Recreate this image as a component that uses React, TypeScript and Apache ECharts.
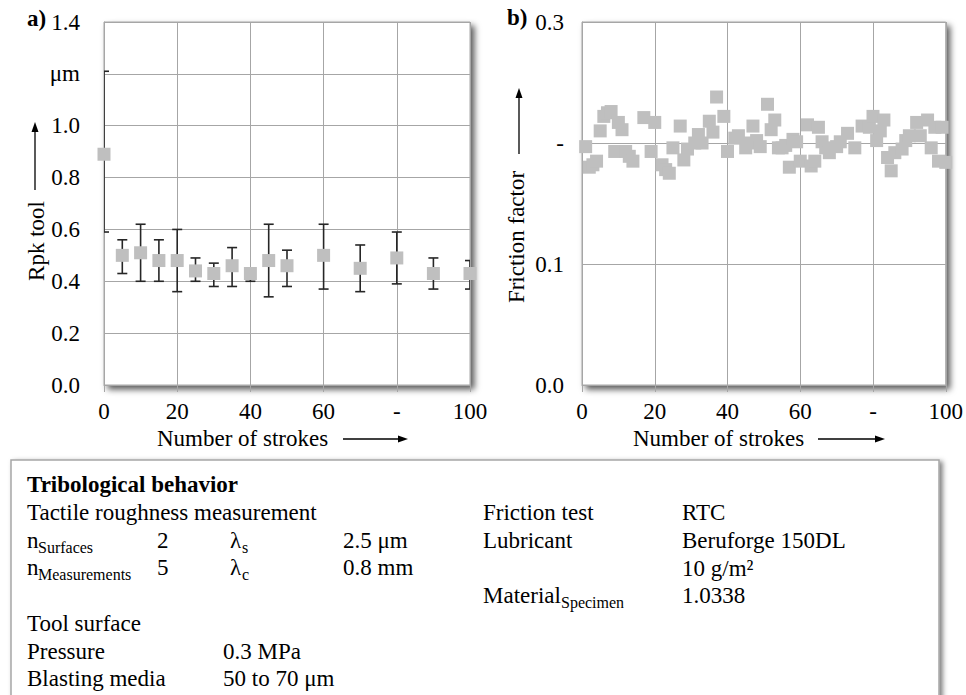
import { useEffect, useRef } from 'react';
import * as echarts from 'echarts';

// ---- Data: Rpk tool (panel a) ----
const rpkStrokes = [0, 5, 10, 15, 20, 25, 30, 35, 40, 45, 50, 60, 70, 80, 90, 100];
const rpkMean = [0.89, 0.50, 0.51, 0.48, 0.48, 0.44, 0.43, 0.46, 0.43, 0.48, 0.46, 0.50, 0.45, 0.49, 0.43, 0.43];
const rpkLow = [0.59, 0.43, 0.40, 0.40, 0.36, 0.40, 0.38, 0.38, 0.40, 0.34, 0.38, 0.37, 0.36, 0.39, 0.37, 0.37];
const rpkHigh = [1.21, 0.56, 0.62, 0.56, 0.60, 0.49, 0.47, 0.53, 0.45, 0.62, 0.52, 0.62, 0.54, 0.59, 0.49, 0.48];

// ---- Data: Friction factor (panel b) ----
const frictionStrokes = [1, 2, 3, 4, 5, 6, 7, 8, 9, 10, 11, 12, 13, 14, 17, 19, 20, 22, 23, 24, 25, 27, 28, 29, 31, 32, 33, 35, 36, 37, 39, 40, 42, 43, 45, 46, 47, 48, 49, 51, 52, 53, 54, 55, 56, 57, 58, 59, 60, 62, 63, 64, 65, 66, 67, 68, 70, 71, 73, 75, 77, 79, 80, 81, 82, 83, 84, 85, 86, 88, 89, 90, 92, 93, 95, 96, 97, 98, 99, 100];
const frictionValues = [0.197, 0.180, 0.182, 0.185, 0.210, 0.222, 0.225, 0.226, 0.193, 0.217, 0.211, 0.193, 0.189, 0.185, 0.221, 0.193, 0.217, 0.182, 0.178, 0.175, 0.196, 0.214, 0.186, 0.195, 0.200, 0.207, 0.200, 0.218, 0.209, 0.238, 0.222, 0.193, 0.204, 0.206, 0.196, 0.200, 0.214, 0.202, 0.197, 0.232, 0.211, 0.219, 0.196, 0.196, 0.198, 0.180, 0.203, 0.201, 0.185, 0.215, 0.181, 0.185, 0.213, 0.201, 0.196, 0.192, 0.197, 0.201, 0.208, 0.196, 0.214, 0.213, 0.222, 0.202, 0.210, 0.219, 0.188, 0.177, 0.192, 0.195, 0.202, 0.206, 0.217, 0.206, 0.219, 0.196, 0.213, 0.185, 0.213, 0.184];

// ---- Tick labels ----
const xTickLabels: Record<number, string> = { 0: '0', 20: '20', 40: '40', 60: '60', 80: '-', 100: '100' };
const rpkTickLabels: Record<string, string> = { '0.0': '0.0', '0.2': '0.2', '0.4': '0.4', '0.6': '0.6', '0.8': '0.8', '1.0': '1.0', '1.2': 'μm', '1.4': '1.4' };
const frictionTickLabels: Record<string, string> = { '0.0': '0.0', '0.1': '0.1', '0.2': '-', '0.3': '0.3' };

const F = "'Liberation Serif', 'Times New Roman', serif";
const GRID_C = '#a6a6a6';
const MARK_C = '#bfbfbf';

const txt = (x: number, y: number, text: string, size = 23, extra: any = {}) => ({
  type: 'text',
  x,
  y,
  z: 100,
  style: { text, fontSize: size, fontFamily: F, fill: '#000', verticalAlign: 'middle', align: 'left', ...extra },
});

const hArrow = (x1: number, x2: number, y: number) => [
  { type: 'line', z: 100, shape: { x1, y1: y, x2: x2 - 8, y2: y }, style: { stroke: '#000', lineWidth: 1.3 } },
  { type: 'polygon', z: 100, shape: { points: [[x2, y], [x2 - 10, y - 3.5], [x2 - 10, y + 3.5]] }, style: { fill: '#000' } },
];
const vArrow = (x: number, y1: number, y2: number) => [
  { type: 'line', z: 100, shape: { x1: x, y1, x2: x, y2: y2 + 8 }, style: { stroke: '#000', lineWidth: 1.3 } },
  { type: 'polygon', z: 100, shape: { points: [[x, y2], [x - 3.5, y2 + 10], [x + 3.5, y2 + 10]] }, style: { fill: '#000' } },
];

const gridBase = {
  show: true,
  backgroundColor: '#fff',
  borderColor: GRID_C,
  borderWidth: 1,
  shadowColor: 'rgba(0,0,0,0.65)',
  shadowBlur: 6,
  shadowOffsetX: 4,
  shadowOffsetY: 4,
};

const labelStyle = { fontSize: 23, fontFamily: F, color: '#000' };

const xAxisBase = (gridIndex: number) => ({
  gridIndex,
  type: 'value',
  min: 0,
  max: 100,
  interval: 20,
  axisLine: { show: true, lineStyle: { color: GRID_C, width: 1 } },
  axisTick: { show: true, length: 7, lineStyle: { color: GRID_C } },
  axisLabel: { ...labelStyle, margin: 15, formatter: (v: number) => xTickLabels[Math.round(v)] ?? String(v) },
  splitLine: { show: true, lineStyle: { color: GRID_C, width: 1 } },
});

export default function App() {
  const ref = useRef<HTMLDivElement>(null);
  useEffect(() => {
    const chart = echarts.init(ref.current!, null, { renderer: 'svg' });
    const option: any = {
      animation: false,
      backgroundColor: '#fff',
      grid: [
        { ...gridBase, left: 104, top: 22, width: 366, height: 363 },
        { ...gridBase, left: 582, top: 22, width: 365, height: 363 },
      ],
      xAxis: [xAxisBase(0), xAxisBase(1)],
      yAxis: [
        {
          gridIndex: 0,
          type: 'value',
          min: 0,
          max: 1.4,
          interval: 0.2,
          axisLine: { show: true, lineStyle: { color: GRID_C } },
          axisTick: { show: false },
          axisLabel: { ...labelStyle, margin: 24, formatter: (v: number) => rpkTickLabels[v.toFixed(1)] ?? v.toFixed(1) },
          splitLine: { show: true, lineStyle: { color: GRID_C, width: 1 } },
        },
        {
          gridIndex: 1,
          type: 'value',
          min: 0,
          max: 0.3,
          interval: 0.1,
          axisLine: { show: true, lineStyle: { color: GRID_C } },
          axisTick: { show: false },
          axisLabel: { ...labelStyle, margin: 18, formatter: (v: number) => frictionTickLabels[v.toFixed(1)] ?? v.toFixed(1) },
          splitLine: { show: true, lineStyle: { color: GRID_C, width: 1 } },
        },
      ],
      series: [
        {
          type: 'custom',
          xAxisIndex: 0,
          yAxisIndex: 0,
          clip: true,
          z: 3,
          data: rpkStrokes.map((x, i) => [x, rpkLow[i], rpkHigh[i]]),
          encode: { x: 0, y: [1, 2] },
          renderItem: (_p: any, api: any) => {
            const x = api.value(0);
            const lo = api.coord([x, api.value(1)]);
            const hi = api.coord([x, api.value(2)]);
            const hw = 5;
            const st = { stroke: '#262626', lineWidth: 1.6 };
            return {
              type: 'group',
              children: [
                { type: 'line', shape: { x1: hi[0], y1: hi[1], x2: lo[0], y2: lo[1] }, style: st },
                { type: 'line', shape: { x1: hi[0] - hw, y1: hi[1], x2: hi[0] + hw, y2: hi[1] }, style: st },
                { type: 'line', shape: { x1: lo[0] - hw, y1: lo[1], x2: lo[0] + hw, y2: lo[1] }, style: st },
              ],
            };
          },
        },
        {
          type: 'scatter',
          xAxisIndex: 0,
          yAxisIndex: 0,
          clip: false,
          z: 4,
          symbol: 'rect',
          symbolSize: 13,
          itemStyle: { color: MARK_C, opacity: 1 },
          data: rpkStrokes.map((x, i) => [x, rpkMean[i]]),
        },
        {
          type: 'scatter',
          xAxisIndex: 1,
          yAxisIndex: 1,
          clip: false,
          z: 4,
          symbol: 'rect',
          symbolSize: 13,
          itemStyle: { color: MARK_C, opacity: 1 },
          data: frictionStrokes.map((x, i) => [x, frictionValues[i]]),
        },
      ],
      graphic: [
        // panel letters
        txt(27, 18, 'a)', 23, { fontWeight: 'bold' }),
        txt(507, 17, 'b)', 23, { fontWeight: 'bold' }),
        // y titles
        { ...txt(36, 241, 'Rpk tool'), rotation: Math.PI / 2, style: { ...txt(0, 0, 'Rpk tool').style, align: 'center' } },
        ...vArrow(35, 190, 122),
        { ...txt(516, 237, 'Friction factor'), rotation: Math.PI / 2, style: { ...txt(0, 0, 'Friction factor').style, align: 'center' } },
        ...vArrow(519, 154, 88),
        // x titles
        txt(157, 438, 'Number of strokes'),
        ...hArrow(343, 408, 439),
        txt(633, 438, 'Number of strokes'),
        ...hArrow(818, 885, 439),
        // info box
        {
          type: 'rect',
          z: 90,
          shape: { x: 11, y: 460, width: 928, height: 270 },
          style: { fill: '#fff', stroke: GRID_C, lineWidth: 1.5, shadowBlur: 5, shadowColor: 'rgba(0,0,0,0.5)', shadowOffsetX: 3, shadowOffsetY: 2 },
        },
        txt(27, 484, 'Tribological behavior', 23, { fontWeight: 'bold' }),
        txt(27, 512, 'Tactile roughness measurement'),
        txt(27, 540, 'n'),
        txt(38, 547, 'Surfaces', 16),
        txt(157, 540, '2'),
        txt(230, 540, 'λ'),
        txt(242, 547, 's', 16),
        txt(343, 540, '2.5 μm'),
        txt(27, 567, 'n'),
        txt(38, 574, 'Measurements', 16),
        txt(157, 567, '5'),
        txt(230, 567, 'λ'),
        txt(242, 574, 'c', 16),
        txt(343, 567, '0.8 mm'),
        txt(27, 623, 'Tool surface'),
        txt(27, 651, 'Pressure'),
        txt(223, 651, '0.3 MPa'),
        txt(27, 678, 'Blasting media'),
        txt(223, 678, '50 to 70 μm'),
        txt(483, 512, 'Friction test'),
        txt(682, 512, 'RTC'),
        txt(483, 540, 'Lubricant'),
        txt(682, 540, 'Beruforge 150DL'),
        txt(682, 568, '10 g/m²'),
        txt(483, 595, 'Material'),
        txt(561, 602, 'Specimen', 16),
        txt(682, 595, '1.0338'),
      ],
    };
    chart.setOption(option);
    return () => chart.dispose();
  }, []);
  return (
    <div
      ref={ref}
      style={{ position: 'absolute', left: 0, top: 0, width: 966, height: 695, background: '#fff' }}
    />
  );
}
